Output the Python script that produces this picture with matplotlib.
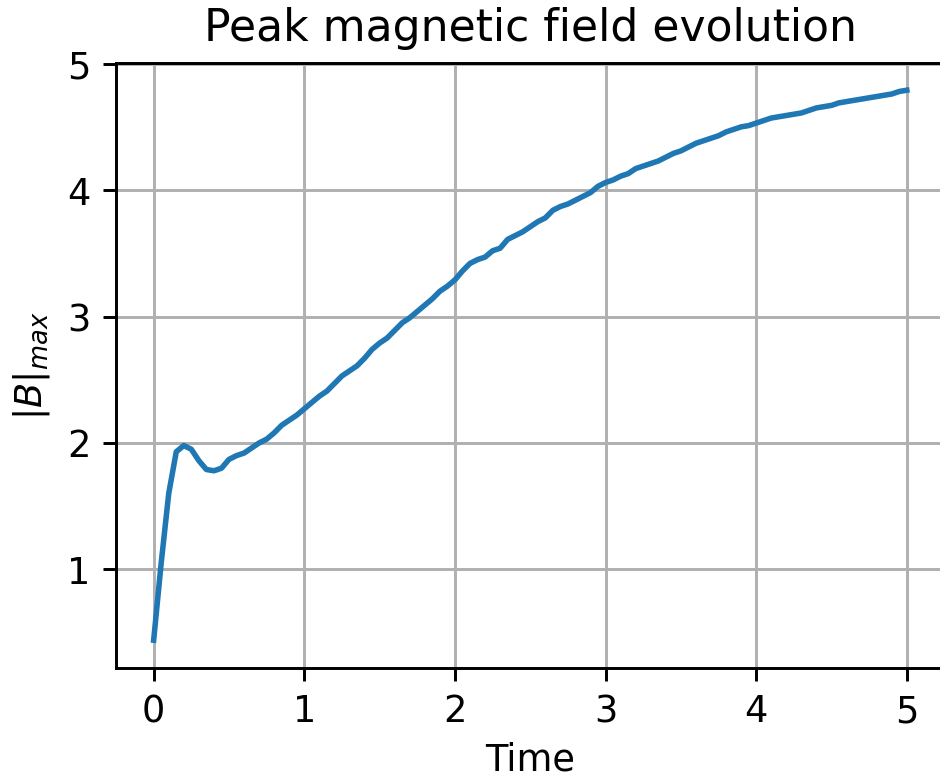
import numpy as np
import matplotlib
matplotlib.use("Agg")
import matplotlib.pyplot as plt

# time samples and peak |B|
time = [0.0, 0.05, 0.1, 0.15, 0.2, 0.25, 0.3, 0.35, 0.4, 0.45,
        0.5, 0.55, 0.6, 0.65, 0.7, 0.75, 0.8, 0.85, 0.9, 0.95,
        1.0, 1.05, 1.1, 1.15, 1.2, 1.25, 1.3, 1.35, 1.4, 1.45,
        1.5, 1.55, 1.6, 1.65, 1.7, 1.75, 1.8, 1.85, 1.9, 1.95,
        2.0, 2.05, 2.1, 2.15, 2.2, 2.25, 2.3, 2.35, 2.4, 2.45,
        2.5, 2.55, 2.6, 2.65, 2.7, 2.75, 2.8, 2.85, 2.9, 2.95,
        3.0, 3.05, 3.1, 3.15, 3.2, 3.25, 3.3, 3.35, 3.4, 3.45,
        3.5, 3.55, 3.6, 3.65, 3.7, 3.75, 3.8, 3.85, 3.9, 3.95,
        4.0, 4.05, 4.1, 4.15, 4.2, 4.25, 4.3, 4.35, 4.4, 4.45,
        4.5, 4.55, 4.6, 4.65, 4.7, 4.75, 4.8, 4.85, 4.9, 4.95, 5.0]
bmax = [0.44, 1.05, 1.60, 1.93, 1.98, 1.95, 1.86, 1.79, 1.78, 1.80,
        1.87, 1.90, 1.92, 1.96, 2.00, 2.03, 2.08, 2.14, 2.18, 2.22,
        2.27, 2.32, 2.37, 2.41, 2.47, 2.53, 2.57, 2.61, 2.67, 2.74,
        2.79, 2.83, 2.89, 2.95, 2.99, 3.04, 3.09, 3.14, 3.20, 3.24,
        3.29, 3.36, 3.42, 3.45, 3.47, 3.52, 3.54, 3.61, 3.64, 3.67,
        3.71, 3.75, 3.78, 3.84, 3.87, 3.89, 3.92, 3.95, 3.98, 4.03,
        4.06, 4.08, 4.11, 4.13, 4.17, 4.19, 4.21, 4.23, 4.26, 4.29,
        4.31, 4.34, 4.37, 4.39, 4.41, 4.43, 4.46, 4.48, 4.50, 4.51,
        4.53, 4.55, 4.57, 4.58, 4.59, 4.60, 4.61, 4.63, 4.65, 4.66,
        4.67, 4.69, 4.70, 4.71, 4.72, 4.73, 4.74, 4.75, 4.76, 4.78, 4.79]

W, H = 940, 778
DPI = 265
fig = plt.figure(figsize=(W / DPI, H / DPI), dpi=DPI)
# axes placed in pixels (right spine runs just past the image edge)
ax = fig.add_axes([116 / W, 1 - 667.7 / H, (944.5 - 116) / W, (667.7 - 62.7) / H])

ax.plot(time, bmax)
ax.set_xlabel("Time", labelpad=3)
ax.set_ylabel(r"$|B|_{max}$")
ax.set_title("Peak magnetic field evolution")
ax.grid(True)

fig.savefig("out.png", dpi=DPI)
